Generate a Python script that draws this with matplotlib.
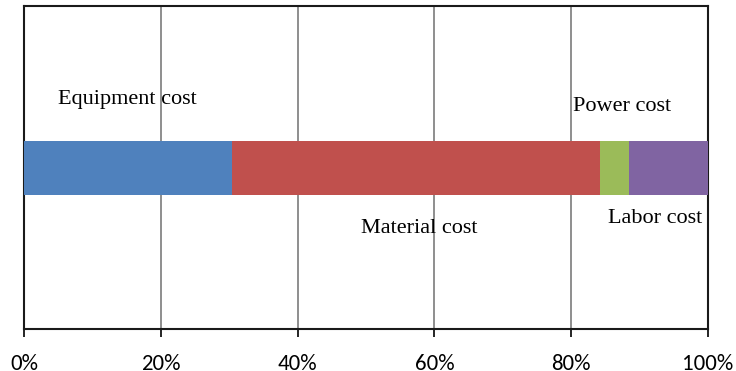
import matplotlib
matplotlib.use("Agg")
import matplotlib.pyplot as plt
from matplotlib.ticker import FuncFormatter
from matplotlib import font_manager

# Cost structure (share of total, %)
categories = ["Equipment cost", "Material cost", "Power cost", "Labor cost"]
shares = [30.4, 53.8, 4.2, 11.6]
colors = ["#4F81BD", "#C0504D", "#9BBB59", "#8064A2"]
tick_values = [0, 20, 40, 60, 80, 100]

installed = {f.name for f in font_manager.fontManager.ttflist}
tick_font = "Carlito" if "Carlito" in installed else "Lato"
label_font = "Liberation Serif"

fig = plt.figure(figsize=(7.36, 3.71), dpi=100)
ax = fig.add_axes([24 / 736, 1 - 329 / 371, 684 / 736, 323 / 371])

left = 0.0
for name, val, col in zip(categories, shares, colors):
    ax.barh(0.4985, val, left=left, height=0.167, color=col, zorder=3)
    left += val

ax.set_xlim(0, 100)
ax.set_ylim(0, 1)
ax.set_xticks(tick_values)
ax.xaxis.set_major_formatter(FuncFormatter(lambda v, p: f"{v:.0f}%"))
ax.set_yticks([])
ax.grid(axis="x", color="#868686", linewidth=1.3, zorder=0)
for t in ax.get_xticklabels():
    t.set_fontfamily(tick_font)
    t.set_fontsize(16.5)
ax.tick_params(axis="x", length=6, width=1.2, pad=12, colors="black")
for s in ax.spines.values():
    s.set_linewidth(1.5)
    s.set_color("#1a1a1a")

label_pos = {
    "Equipment cost": (15.13, 0.709),
    "Power cost": (87.4, 0.690),
    "Material cost": (57.8, 0.310),
    "Labor cost": (92.25, 0.341),
}
for name in categories:
    x, y = label_pos[name]
    ax.text(x, y, name, ha="center", va="center", fontsize=16,
            fontfamily=label_font, color="black", zorder=5)

fig.savefig("out.png", dpi=100)
